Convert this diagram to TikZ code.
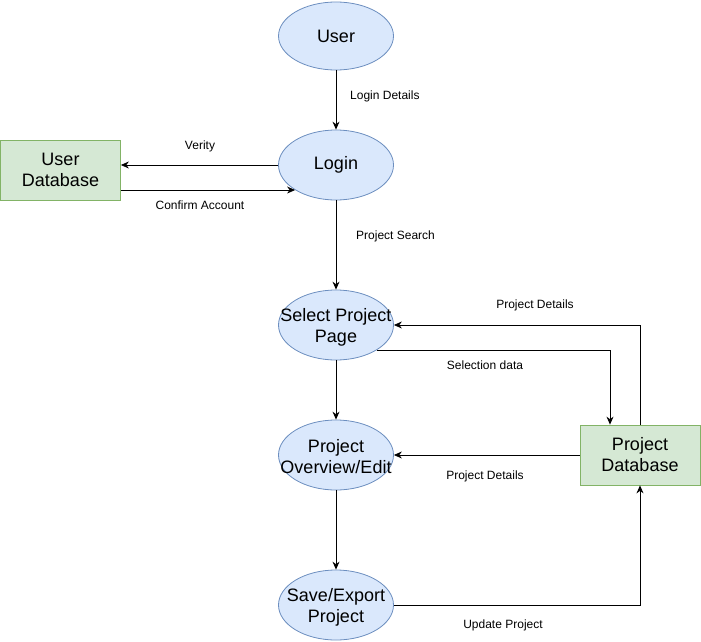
\documentclass[tikz,border=0pt]{standalone}
\usepackage{fontspec}
\setmainfont{Liberation Sans}
\usetikzlibrary{shapes.geometric,arrows.meta}
\definecolor{ellfill}{HTML}{DAE8FC}
\definecolor{elldraw}{HTML}{6C8EBF}
\definecolor{dbfill}{HTML}{D5E8D4}
\definecolor{dbdraw}{HTML}{82B366}
\tikzset{
  proc/.style={ellipse, draw=elldraw, fill=ellfill, line width=0.8pt, minimum width=115pt, minimum height=70pt, inner sep=0pt},
  ptxt/.style={align=center, inner sep=0pt, font=\fontsize{18}{21}\selectfont},
  ptxttwo/.style={ptxt, yshift=-2pt},
  store/.style={rectangle, draw=dbdraw, fill=dbfill, line width=0.8pt, minimum width=120pt, minimum height=60pt, inner sep=0pt, align=center, font=\fontsize{18}{21}\selectfont},
  arr/.style={draw=black, line width=0.8pt, -{Stealth[length=8pt,width=7pt]}},
  lab/.style={font=\fontsize{12}{14}\selectfont, inner sep=0pt}
}
\begin{document}
\begin{tikzpicture}[x=1pt,y=-1pt]
\useasboundingbox (0,0) rectangle (701,642);
\node[proc, minimum height=68pt, label={[ptxt]center:User}] (user) at (336,36) {};
\node[proc, label={[ptxt]center:Login}] (login) at (336,165) {};
\node[proc, label={[ptxttwo]center:Select Project\\Page}] (sel) at (336,325) {};
\node[proc, label={[ptxttwo]center:Project\\Overview/Edit}] (ov) at (336,455) {};
\node[proc, label={[ptxttwo]center:Save/Export\\Project}] (save) at (336,605) {};
\node[store] (udb) at (60.5,170) {User\\Database};
\node[store] (pdb) at (640,455) {Project\\Database};

\draw[arr] (user) -- (login);
\node[lab, anchor=west] (l1) at (350,96) {Login Details};
\draw[arr] (login) -- (sel);
\node[lab, anchor=west] (l2) at (356,236) {Project Search};
\draw[arr] (sel) -- (ov);
\draw[arr] (ov) -- (save);

\draw[arr] (login.west) -- (login.west -| udb.east);
\node[lab] (l3) at (200,146) {Verity};
\draw[arr] ([yshift=-20pt]udb.east) -- ++(80,0) |- (login.south west);
\node[lab] (l4) at (200,205) {Confirm Account};

\draw[arr] (pdb.north) |- (sel.east);
\node[lab] (l5) at (535,305) {Project Details};
\draw[arr] (sel.south east) -| ([xshift=-30pt]pdb.north);
\node[lab] (l6) at (485,365) {Selection data};
\draw[arr] (pdb.west) -- (ov.east);
\node[lab] (l7) at (485,476) {Project Details};
\draw[arr] (save.east) -| (pdb.south);
\node[lab] (l8) at (503,625) {Update Project};
\end{tikzpicture}
\end{document}
